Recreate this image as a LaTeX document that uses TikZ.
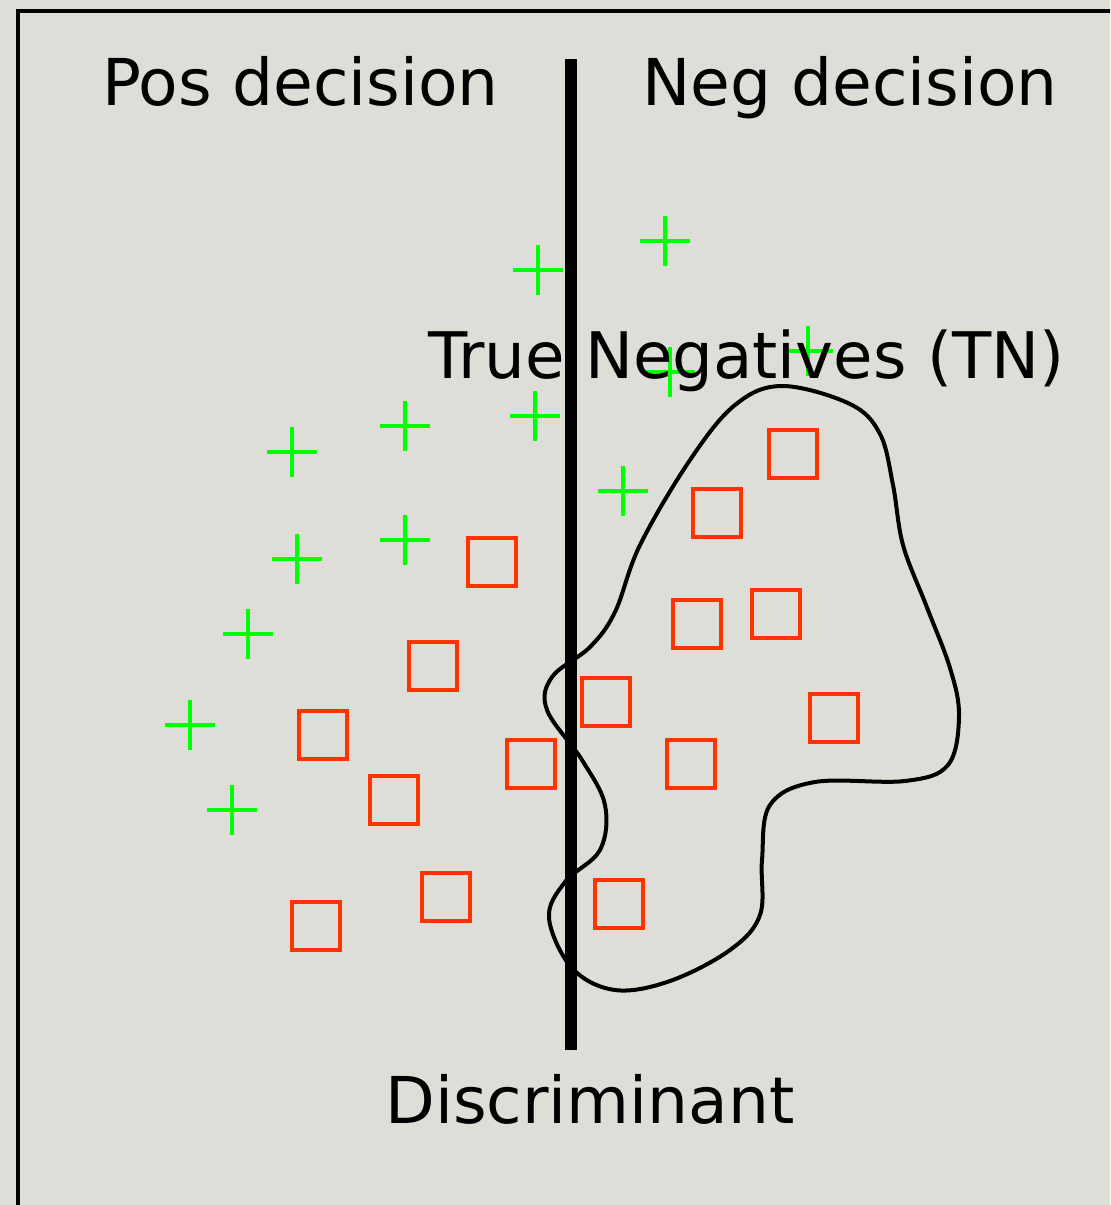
\documentclass[tikz,border=0pt]{standalone}
\usepackage{fontspec}
\setmainfont{DejaVu Sans}
\usetikzlibrary{positioning}

\definecolor{paper}{RGB}{223,221,216}
\definecolor{posgreen}{RGB}{0,255,0}
\definecolor{negred}{RGB}{255,51,0}

\begin{document}
\begin{tikzpicture}[
    x=0.5pt, y=-0.5pt,
    lbl/.style={font=\fontsize{32.3}{38}\selectfont, anchor=base, inner sep=0pt},
    negsq/.style={draw=negred, line width=1.9pt, minimum size=24pt, inner sep=0pt},
    posmark/.pic={\draw[posgreen, line width=1.8pt] (-25,0) -- (25,0) (0,-25) -- (0,25);},
    region/.style={line width=2pt, line join=round},
    discline/.style={line width=6pt},
]

\fill[paper] (0,0) rectangle (1110,1205);
\useasboundingbox (0,0) rectangle (1110,1205);
\clip (0,0) rectangle (1110,1205);
\draw[line width=1.8pt] (18,11) rectangle (1140,1230);

% region of true negatives
\draw[region] plot[smooth cycle, tension=0.6] coordinates {
    (782,386) (850,404) (880,434) (893,485) (903,545) (926,605) (950,668)
    (959,716) (948,765) (905,781) (815,782) (770,805) (762,860) (760,915)
    (730,950) (670,981) (615,990) (572,968) (549,918) (565,882) (600,850)
    (605,805) (582,760) (547,710) (552,677) (590,647) (615,612) (640,545)
    (690,460) (735,405)};

% positive samples
\foreach \px/\py [count=\i] in {538/270, 665/241, 405/426, 292/452, 535/416,
    297/559, 405/540, 248/634, 190/725, 232/810, 623/491, 670/372, 808/351}
    \pic (p\i) at (\px,\py) {posmark};

% negative samples
\foreach \nx/\ny [count=\i] in {793/454, 717/513, 492/562, 697/624, 776/614,
    433/666, 606/702, 323/735, 834/718, 531/764, 691/764, 394/800,
    446/897, 316/926, 619/904}
    \node[negsq] (n\i) at (\nx,\ny) {};

\coordinate (disctop) at (570.5,59);
\coordinate (discbot) at (570.5,1050);
\draw[discline] (disctop) -- (discbot);

\node[lbl] (posdec) at (300.5,105) {Pos decision};
\node[lbl] (negdec) at (850,105) {Neg decision};
\node[lbl, font=\fontsize{32.1}{38}\selectfont] (tn) at (746.5,378) {True Negatives (TN)};
\node[lbl] (disc) at (590,1123) {Discriminant};

\end{tikzpicture}
\end{document}
